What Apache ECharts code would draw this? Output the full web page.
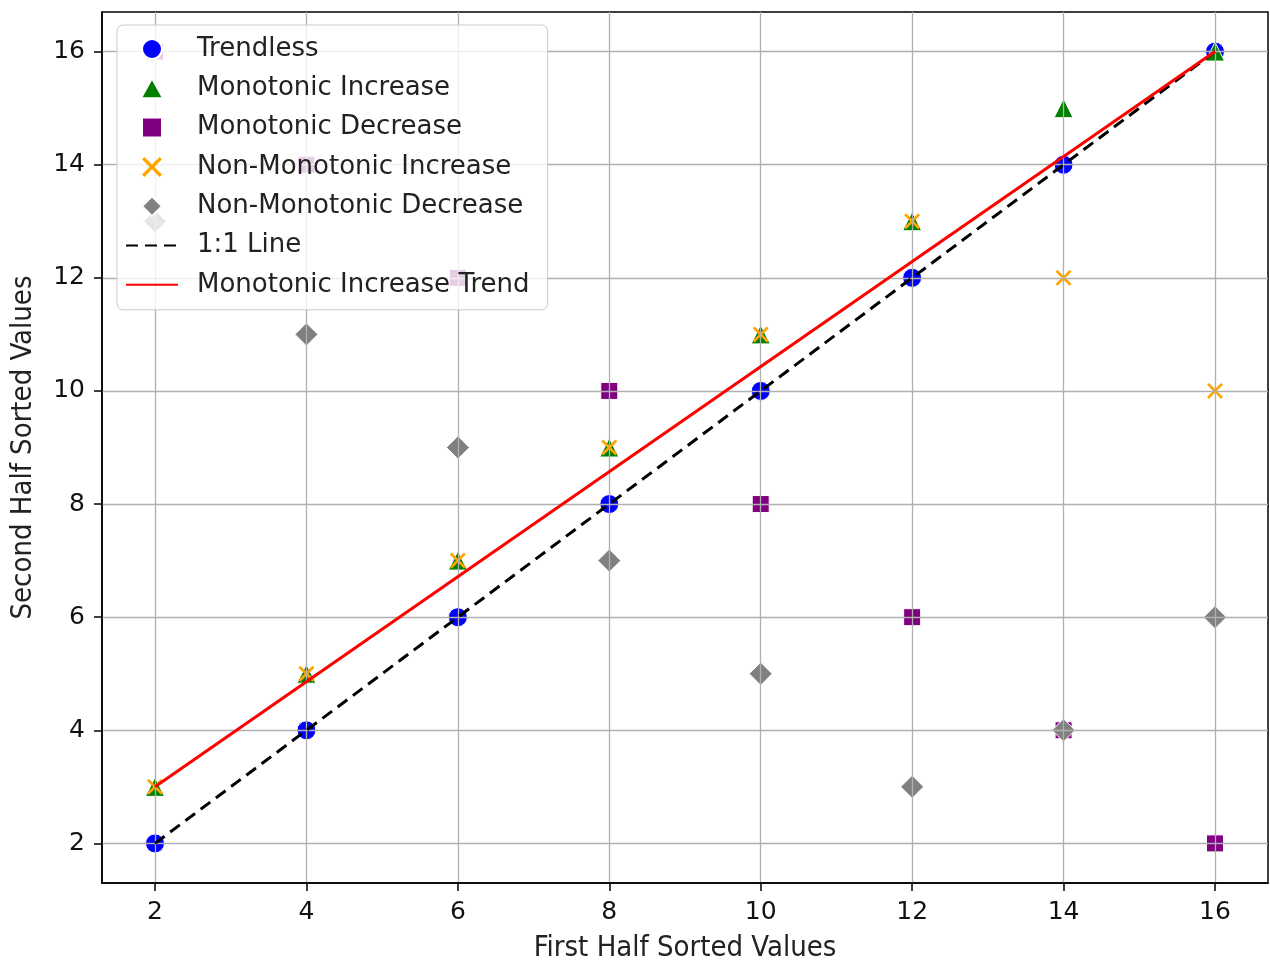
<!DOCTYPE html>
<html>
<head>
<meta charset="utf-8">
<script src="https://cdn.jsdelivr.net/npm/echarts@6/dist/echarts.min.js"></script>
<style>
  html, body { margin: 0; padding: 0; background: #fff; }
  #chart { width: 1270px; height: 962px; }
</style>
</head>
<body>
<div id="chart"></div>
<script>
// values
const firstHalf = [2, 4, 6, 8, 10, 12, 14, 16];
const trendless = [2, 4, 6, 8, 10, 12, 14, 16];
const monoIncrease = [3, 5, 7, 9, 11, 13, 15, 16];
const monoDecrease = [16, 14, 12, 10, 8, 6, 4, 2];
const nonMonoIncrease = [3, 5, 7, 9, 11, 13, 12, 10];
const nonMonoDecrease = [13, 11, 9, 7, 5, 3, 4, 6];

const identityX = [2, 16];
const identityY = [2, 16];
const trendX = [2, 16];
const trendY = [3, 16];

const xTicks = [2, 4, 6, 8, 10, 12, 14, 16];
const yTicks = [2, 4, 6, 8, 10, 12, 14, 16];

// marker shapes as paths so the legend keeps their aspect
const triangleMarker = 'path://M5,0 L10,9 L0,9 Z';
const squareMarker = 'path://M0,0 L10,0 L10,10 L0,10 Z';
const diamondMarker = 'path://M5,0 L10,5 L5,10 L0,5 Z';
const xMarker = 'path://M0,1.2 L1.2,0 L5,3.8 L8.8,0 L10,1.2 L6.2,5 L10,8.8 L8.8,10 L5,6.2 L1.2,10 L0,8.8 L3.8,5 Z';

const pairs = (xs, ys) => xs.map((x, i) => [x, ys[i]]);

const chart = echarts.init(document.getElementById('chart'));

const scatter = (name, ys, symbol, size, color, edge = true) => ({
  name,
  type: 'scatter',
  z: -1,
  symbol,
  symbolSize: size,
  data: pairs(firstHalf, ys),
  itemStyle: edge
    ? { color, opacity: 1, borderColor: '#ffffff', borderWidth: 1 }
    : { color, opacity: 1, borderWidth: 0 },
});

const tickFont = { fontFamily: 'DejaVu Sans', fontSize: 25, color: '#111' };
const nameFont = { fontFamily: 'DejaVu Sans Condensed', fontSize: 29, color: '#222' };

const option = {
  animation: false,
  backgroundColor: '#ffffff',
  grid: {
    left: 102, right: 2, top: 12, bottom: 79,
    outerBoundsMode: 'none',
    containLabel: false,
    show: true, borderColor: '#000', borderWidth: 1.5,
  },
  xAxis: {
    type: 'value',
    min: 1.3,
    max: 16.7,
    name: 'First Half Sorted Values',
    nameLocation: 'middle',
    nameGap: 51,
    nameTextStyle: nameFont,
    axisLine: { show: true, lineStyle: { color: '#000', width: 1.5 } },
    axisTick: { show: true, customValues: xTicks, length: 8, lineStyle: { color: '#000', width: 1.5 } },
    axisLabel: { customValues: xTicks, margin: 17, ...tickFont },
    splitLine: { show: true, lineStyle: { color: '#b0b0b0', width: 1.3 } },
  },
  yAxis: {
    type: 'value',
    min: 1.3,
    max: 16.7,
    name: 'Second Half Sorted Values',
    nameLocation: 'middle',
    nameGap: 64,
    nameTextStyle: nameFont,
    axisLine: { show: true, lineStyle: { color: '#000', width: 1.5 } },
    axisTick: { show: true, customValues: yTicks, length: 8, lineStyle: { color: '#000', width: 1.5 } },
    axisLabel: { customValues: yTicks, margin: 17, ...tickFont },
    splitLine: { show: true, lineStyle: { color: '#b0b0b0', width: 1.3 } },
  },
  legend: {
    orient: 'vertical',
    left: 117,
    top: 25,
    padding: [11, 18, 12, 8],
    itemGap: 13.3,
    itemWidth: 52,
    itemHeight: 20,
    selectedMode: false,
    backgroundColor: 'rgba(255,255,255,0.8)',
    borderColor: '#cccccc',
    borderWidth: 1,
    borderRadius: 6,
    textStyle: { fontFamily: 'DejaVu Sans', fontSize: 26, color: '#222', padding: [0, 0, 0, 14] },
    data: [
      'Trendless', 'Monotonic Increase', 'Monotonic Decrease', 'Non-Monotonic Increase',
      'Non-Monotonic Decrease',
      { name: '1:1 Line', itemStyle: { opacity: 0 } },
      { name: 'Monotonic Increase Trend', itemStyle: { opacity: 0 } },
    ],
  },
  series: [
    scatter('Trendless', trendless, 'circle', 19, '#0000ff'),
    scatter('Monotonic Increase', monoIncrease, triangleMarker, 19, '#008000'),
    scatter('Monotonic Decrease', monoDecrease, squareMarker, 17, '#800080'),
    scatter('Non-Monotonic Increase', nonMonoIncrease, xMarker, 16, '#ffa500', false),
    scatter('Non-Monotonic Decrease', nonMonoDecrease, diamondMarker, 23, '#808080'),
    {
      name: '1:1 Line',
      type: 'line',
      symbol: 'none',
      data: pairs(identityX, identityY),
      lineStyle: { color: '#000', width: 3, type: [12, 7] },
      itemStyle: { color: '#000' },
    },
    {
      name: 'Monotonic Increase Trend',
      type: 'line',
      symbol: 'none',
      data: pairs(trendX, trendY),
      lineStyle: { color: '#ff0000', width: 3 },
      itemStyle: { color: '#ff0000' },
    },
  ],
};

chart.setOption(option);
</script>
</body>
</html>
